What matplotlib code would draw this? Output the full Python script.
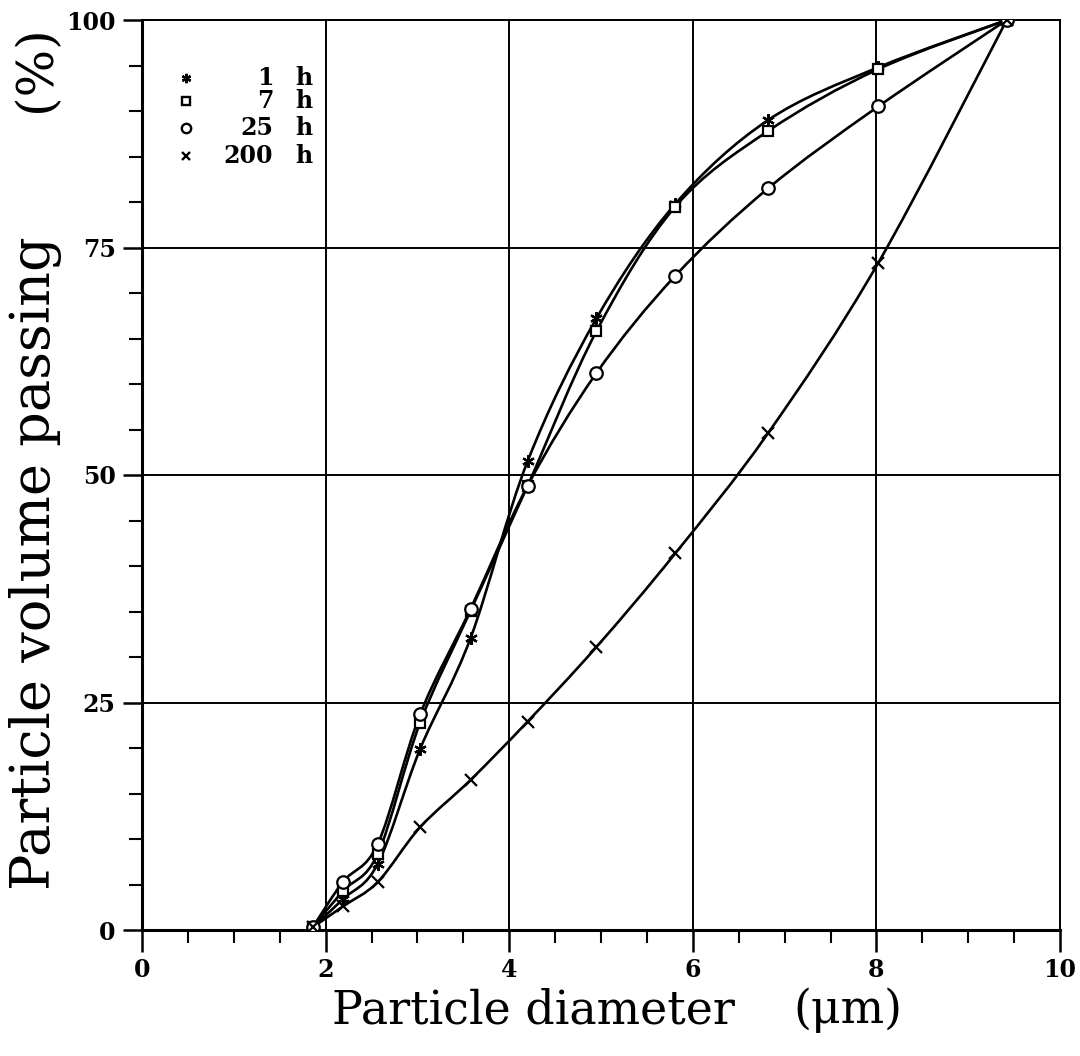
import numpy as np
import matplotlib
matplotlib.use("Agg")
import matplotlib.pyplot as plt
from matplotlib.path import Path
from matplotlib.patches import PathPatch
from matplotlib.ticker import MultipleLocator

# Particle diameter (um) at each measured point
diameter = [1.86, 2.19, 2.57, 3.03, 3.58, 4.20, 4.95, 5.81, 6.82, 8.02, 9.42]

# Cumulative volume passing (%) for each milling time
pass_1h = [0.3, 3.4, 7.3, 19.9, 32.1, 51.5, 67.2, 79.8, 89.0, 94.8, 100]
pass_7h = [0.3, 4.3, 8.4, 22.8, 35.1, 48.8, 65.8, 79.5, 87.8, 94.6, 100]
pass_25h = [0.3, 5.3, 9.5, 23.7, 35.3, 48.8, 61.2, 71.9, 81.5, 90.5, 100]
pass_200h = [0.3, 2.6, 5.3, 11.3, 16.5, 22.9, 31.1, 41.4, 54.6, 73.3, 100]

legend_labels = ["1", "7", "25", "200"]

SERIF = "DejaVu Serif"
W, H = 1080, 1056


def smooth_line(ax, xs, ys, **kw):
    # draw a smooth curve through the points (Catmull-Rom as cubic Bezier)
    pts = np.column_stack([xs, ys]).astype(float)
    n = len(pts)
    verts = [pts[0]]
    codes = [Path.MOVETO]
    for i in range(n - 1):
        p0 = pts[max(i - 1, 0)]
        p1, p2 = pts[i], pts[i + 1]
        p3 = pts[min(i + 2, n - 1)]
        verts += [p1 + (p2 - p0) / 6, p2 - (p3 - p1) / 6, p2]
        codes += [Path.CURVE4] * 3
    ax.add_patch(PathPatch(Path(verts, codes), fill=False, **kw))


fig = plt.figure(figsize=(W / 100, H / 100), dpi=100)
ax = fig.add_axes([142 / W, 126 / H, 918 / W, 910 / H])

series = [
    (pass_1h, (6, 2, 0), 9),
    (pass_7h, "s", 7.5),
    (pass_25h, "o", 9),
    (pass_200h, "x", 8.5),
]

for ys, mk, ms in series:
    smooth_line(ax, diameter, ys, edgecolor="black", lw=1.9, zorder=3)
    ax.plot(diameter, ys, ls="none", marker=mk, ms=ms, mfc="white",
            mec="black", mew=1.6, zorder=4)

ax.set_xlim(0, 10)
ax.set_ylim(0, 100)
ax.set_xticks(range(0, 11, 2))
ax.set_yticks(range(0, 101, 25))
ax.xaxis.set_minor_locator(MultipleLocator(0.5))
ax.yaxis.set_minor_locator(MultipleLocator(5))
ax.tick_params(which="major", direction="out", width=1.8, labelsize=17)
ax.tick_params(axis="x", which="major", length=16, pad=4)
ax.tick_params(axis="y", which="major", length=14, pad=5)
ax.tick_params(which="minor", direction="out", length=9.5, width=1.5)
for lab in ax.get_xticklabels() + ax.get_yticklabels():
    lab.set_fontfamily(SERIF)
    lab.set_fontweight("bold")

ax.grid(True, which="major", color="black", lw=1.4)
for side, sp in ax.spines.items():
    sp.set_linewidth(2.2 if side in ("left", "bottom") else 1.4)

# legend, written straight into the plot corner
leg_y = [93.6, 91.1, 88.1, 85.1]
for (ys, mk, ms), lab, yy in zip(series, legend_labels, leg_y):
    ax.plot([0.48], [yy], ls="none", marker=mk, ms=ms * 0.75, mfc="white",
            mec="black", mew=1.7, clip_on=False)
    ax.text(1.43, yy, lab, ha="right", va="center", fontsize=17,
            fontweight="bold", family=SERIF)
    ax.text(1.67, yy, "h", ha="left", va="center", fontsize=17,
            fontweight="bold", family=SERIF)

# axis titles
fig.text(332 / W, 1 - 1023 / H, "Particle diameter", ha="left",
         va="baseline", fontsize=33, family=SERIF)
fig.text(793 / W, 1 - 1023 / H, "(\u03bcm)", ha="left",
         va="baseline", fontsize=33, family=SERIF)
fig.text(36 / W, 1 - 890 / H, "Particle volume passing", ha="center",
         va="bottom", rotation=90, fontsize=39, family=SERIF)
fig.text(36 / W, 1 - 25 / H, "(%)", ha="center", va="top",
         rotation=90, fontsize=36, family=SERIF)

fig.savefig("out.png", dpi=100)
